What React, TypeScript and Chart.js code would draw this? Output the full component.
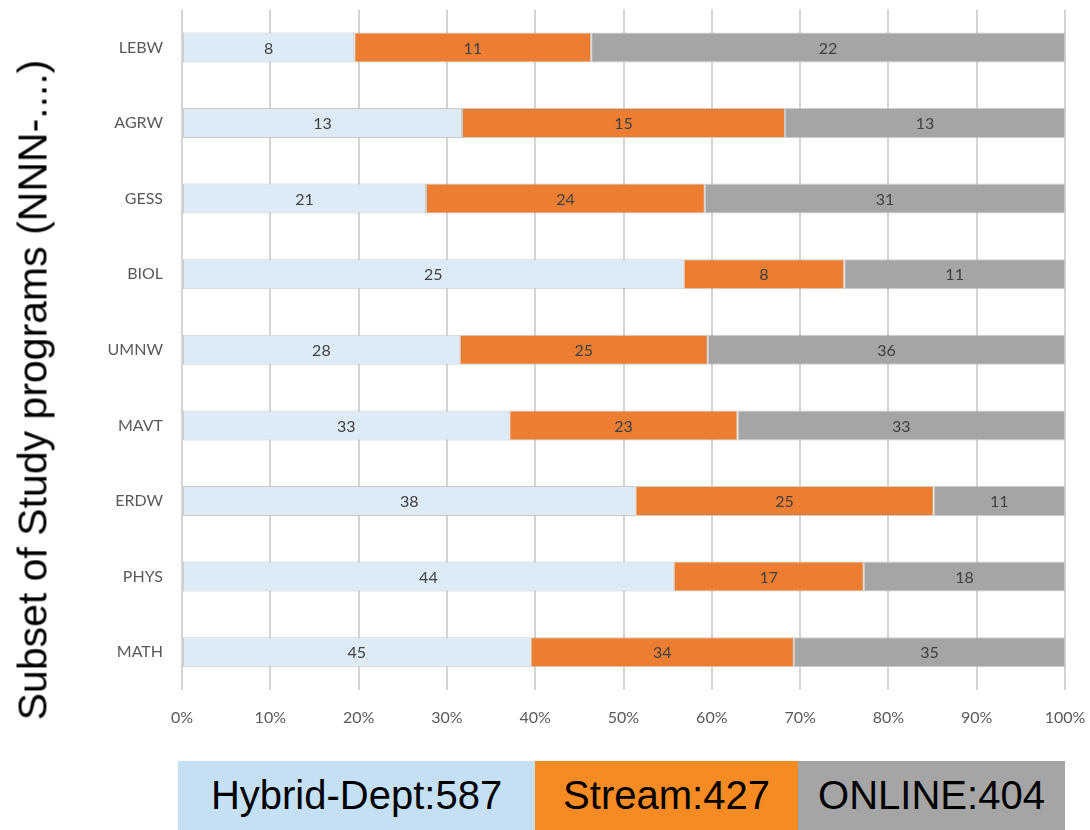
import React, { useEffect, useRef } from "react";
import { Chart, registerables } from "chart.js";

Chart.register(...registerables);

const categories = ["LEBW", "AGRW", "GESS", "BIOL", "UMNW", "MAVT", "ERDW", "PHYS", "MATH"];
const hybridCounts = [8, 13, 21, 25, 28, 33, 38, 44, 45];
const streamCounts = [11, 15, 24, 8, 25, 23, 25, 17, 34];
const onlineCounts = [22, 13, 31, 11, 36, 33, 11, 18, 35];
const seriesNames = ["Hybrid-Dept", "Stream", "ONLINE"];
const legendLabels = ["Hybrid-Dept:587", "Stream:427", "ONLINE:404"];
const axisTitle = "Subset of Study programs (NNN-....)";

const barColors = ["#DDEBF7", "#ED7D31", "#A5A5A5"];
const legendColors = ["#C5E0F5", "#F58B22", "#A5A5A5"];
const legendWidths = [357, 263, 267];

const totals = categories.map((_, i) => hybridCounts[i] + streamCounts[i] + onlineCounts[i]);
const toPct = (arr: number[]) => arr.map((v, i) => (v / totals[i]) * 100);
const countSeries = [hybridCounts, streamCounts, onlineCounts];

const tickFont = { family: "Lato, 'Open Sans', sans-serif", size: 16 };

const labelPlugin = {
  id: "segmentLabels",
  afterDatasetsDraw(chart: any) {
    const ctx = chart.ctx;
    ctx.save();
    ctx.font = "16px Lato, 'Open Sans', sans-serif";
    ctx.fillStyle = "#404040";
    ctx.textAlign = "center";
    ctx.textBaseline = "middle";
    chart.data.datasets.forEach((ds: any, di: number) => {
      const meta = chart.getDatasetMeta(di);
      meta.data.forEach((bar: any, i: number) => {
        const cx = (bar.x + bar.base) / 2;
        ctx.fillText(String(countSeries[di][i]), cx, bar.y + 1);
      });
    });
    ctx.restore();
  },
};

export default function App() {
  const canvasRef = useRef<HTMLCanvasElement | null>(null);

  useEffect(() => {
    if (!canvasRef.current) return;
    const chart = new Chart(canvasRef.current, {
      type: "bar",
      data: {
        labels: categories,
        datasets: [hybridCounts, streamCounts, onlineCounts].map((arr, k) => ({
          label: seriesNames[k],
          data: toPct(arr),
          backgroundColor: barColors[k],
          borderColor: "rgba(190,190,190,0.8)",
          borderWidth: 1,
          borderSkipped: false,
          barPercentage: 0.397,
          categoryPercentage: 1,
        })),
      },
      options: {
        indexAxis: "y",
        animation: false,
        responsive: true,
        maintainAspectRatio: false,
        layout: { padding: { top: 0, right: 25, bottom: 0, left: 0 } },
        plugins: {
          legend: { display: false },
          tooltip: { enabled: false },
        },
        scales: {
          x: {
            stacked: true,
            min: 0,
            max: 100,
            ticks: {
              stepSize: 10,
              padding: 0,
              color: "#595959",
              font: tickFont,
              callback: (v: any) => v + "%",
            },
            grid: { color: "#d4d4d4", lineWidth: 2, drawTicks: true, tickLength: 18, tickColor: "rgba(0,0,0,0)" },
            border: { display: false },
            afterFit: (s: any) => {
              s.height = 55;
            },
          },
          y: {
            stacked: true,
            ticks: {
              padding: 0,
              color: "#595959",
              font: tickFont,
            },
            grid: { display: false, drawTicks: true, tickLength: 19 },
            border: { display: false },
            afterFit: (s: any) => {
              s.width = 182;
            },
          },
        },
      },
      plugins: [labelPlugin],
    });
    return () => chart.destroy();
  }, []);

  return (
    <div style={{ position: "absolute", left: 0, top: 0, width: 1090, height: 830, background: "#fff", overflow: "hidden" }}>
      <div style={{ position: "absolute", left: 0, top: 0, width: 1090, height: 745 }}>
        <canvas ref={canvasRef} />
      </div>
      <div
        style={{
          position: "absolute",
          left: 33,
          top: 390,
          transform: "translate(-50%, -50%) rotate(-90deg)",
          whiteSpace: "nowrap",
          fontFamily: "'Liberation Sans', Arial, sans-serif",
          fontSize: 41,
          color: "#000",
          lineHeight: 1,
        }}
      >
        {axisTitle}
      </div>
      <div style={{ position: "absolute", left: 178, top: 761, height: 69, display: "flex" }}>
        {legendLabels.map((t, i) => (
          <div
            key={t}
            style={{
              width: legendWidths[i],
              height: 69,
              background: legendColors[i],
              display: "flex",
              alignItems: "center",
              justifyContent: "center",
              fontFamily: "'Liberation Sans', Arial, sans-serif",
              fontSize: 40,
              color: "#000",
              whiteSpace: "nowrap",
            }}
          >
            {t}
          </div>
        ))}
      </div>
    </div>
  );
}
